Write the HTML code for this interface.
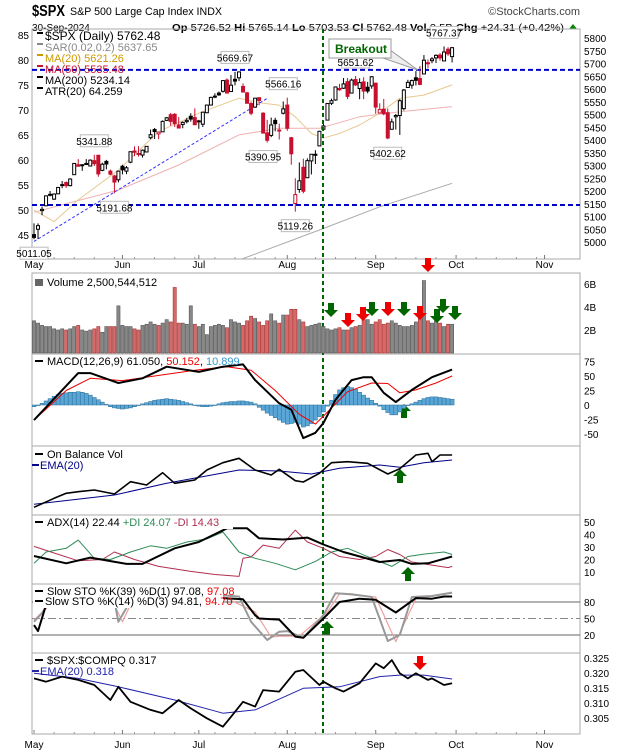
<!DOCTYPE html>
<html><head><meta charset="utf-8"><style>
html,body{margin:0;padding:0;background:#fff}
svg{display:block;font-family:"Liberation Sans",sans-serif}
</style></head><body>
<svg id="c" width="620" height="750" viewBox="0 0 620 750"></svg>
<script>
// ===== data =====
const opens=[5029,5050,5123,5142,5187,5168,5189,5225,5233,5221,5264,5303,5303,5305,5298,5319,5340,5281,5316,5278,5259,5244,
5297,5278,5313,5357,5343,5341,5353,5409,5441,5424,5432,5477,5499,5501,5459,5461,5472,5493,5488,
5471,5462,5507,5537,5572,5584,5591,5635,5590,5638,5644,5610,5585,5543,5529,5566,5505,5428,5418,5477,5439,5505,
5537,5409,5151,5206,5293,5252,5318,5344,5377,5442,5478,5544,5557,5602,5603,5629,5584,5637,5602,5628,5607,5612,
5623,5506,5521,5507,5442,5491,5496,5523,5606,5615,5644,5641,5659,5702,5711,5722,5733,5710,5756,5727];
const highs=[5073,5073,5139,5181,5200,5191,5215,5239,5238,5250,5309,5325,5305,5325,5324,5342,5342,5311,5322,5284,5263,5279,
5303,5298,5355,5375,5376,5363,5376,5441,5447,5432,5477,5490,5506,5505,5490,5473,5487,5505,5524,
5479,5510,5539,5570,5583,5590,5635,5642,5655,5667,5669,5622,5589,5550,5565,5566,5509,5479,5488,5487,5464,5551,
5566,5412,5250,5312,5327,5328,5345,5360,5436,5464,5545,5562,5608,5620,5643,5643,5641,5651,5642,5646,5628,5651,
5623,5544,5561,5523,5484,5502,5560,5600,5636,5637,5670,5690,5733,5716,5725,5736,5741,5767,5764,5765];
const lows=[5011,5012,5105,5142,5179,5165,5187,5211,5212,5218,5263,5297,5279,5302,5298,5298,5256,5278,5285,5262,5191,5234,
5265,5266,5309,5337,5335,5331,5352,5403,5404,5403,5432,5474,5456,5451,5447,5446,5465,5472,5459,
5444,5451,5505,5535,5564,5573,5586,5584,5590,5614,5631,5588,5544,5497,5526,5536,5426,5390,5411,5434,5402,5500,
5436,5303,5119,5193,5191,5251,5265,5306,5376,5435,5478,5537,5554,5593,5600,5560,5584,5612,5560,5560,5583,5601,
5503,5504,5497,5403,5443,5441,5420,5516,5606,5601,5614,5615,5686,5682,5701,5702,5711,5710,5730,5704];
const closes=[5018,5064,5128,5181,5187,5188,5214,5223,5221,5247,5308,5297,5303,5308,5321,5307,5267,5305,5306,5266,5235,5278,
5283,5291,5354,5352,5347,5360,5375,5421,5433,5431,5473,5487,5473,5464,5447,5469,5477,5482,5460,
5475,5509,5537,5567,5572,5577,5633,5584,5615,5631,5667,5588,5544,5505,5564,5555,5427,5399,5459,5464,5436,5522,
5446,5346,5186,5240,5199,5319,5344,5344,5434,5455,5543,5554,5608,5597,5620,5571,5635,5616,5625,5592,5592,5648,
5529,5520,5503,5408,5471,5496,5554,5596,5626,5633,5634,5618,5713,5703,5718,5732,5722,5745,5738,5762];
const volumes=[2.8,2.6,2.4,2.3,2.3,2.1,2.0,2.1,2.0,2.1,2.3,2.4,2.0,1.9,2.0,2.1,2.3,1.8,2.3,2.3,2.3,4.1,
2.4,2.3,2.3,2.1,2.0,2.4,2.5,2.7,2.5,2.4,2.6,2.9,2.7,5.7,2.6,2.6,2.5,4.1,2.5,
2.3,2.5,1.6,2.3,2.4,2.5,2.4,2.2,2.9,2.7,2.6,2.4,2.8,3.2,3.0,2.7,2.4,2.8,3.4,2.8,2.6,3.3,
3.3,3.8,3.8,2.9,2.7,2.3,2.4,2.5,2.6,2.3,2.1,2.0,2.1,2.2,2.0,2.0,2.2,2.3,2.4,2.9,2.9,2.5,
2.7,2.9,2.5,2.6,2.8,2.6,2.4,2.3,2.3,2.4,2.7,3.1,6.3,2.8,2.6,2.8,2.6,2.3,2.5,2.5];
const macdHist=[-3,-1,3,7,11,15,18,20,21,22,22,23,
22,20,17,13,9,5,1,-3,-5,-6,
-7,-6,-5,-3,0,2,4,6,8,9,10,
11,10,9,8,6,4,2,0,-2,-3,
-3,-2,0,2,4,5,6,
6,7,7,6,5,2,-4,-9,
-14,-18,-22,-26,-30,-33,-32,-30,-33,
-38,-36,-32,-26,-20,-12,-2,
8,18,26,30,32,30,27,
22,17,12,8,3,-2,
-8,-13,-17,-17,-12,-6,
-1,2,5,8,11,13,14,14,13,12,11,10];
const macdDays=[0,11,14,21,27,33,41,47,52,55,61,64,67,70,72,75,79,82,84,87,90,94,99,104];
const macdLine=[-26,55,55,38,46,66,57,66,70,43,3,-8,-57,-48,-31,9,43,48,48,21,5,26,48,61];
const sigDays=[0,8,14,22,30,40,48,54,60,66,70,73,78,84,88,91,95,100,104];
const sigLine=[-26,25,46,42,50,60,66,60,25,-16,-33,-12,23,38,37,21,26,38,50];
const obvDays=[0,5,8,11,15,20,24,28,32,35,40,43,47,51,55,59,61,65,67,71,74,78,83,88,91,95,98,99,101,104];
const obvLine=[0.3,3,4.5,5,5.5,4.3,8,7,10.7,7.5,8.5,11.5,13.7,15,11.5,10,11.7,8.3,7.9,10.5,13.7,14,13.5,10.3,11.9,16,16.5,14,16,16];
const obvEmaDays=[0,20,33,51,61,69,76,86,91,97,104];
const obvEma=[1.2,4,7.5,11.5,11.2,10.3,12,13,12.3,13.7,14.5];
const adxDays=[0,8,14,23,27,35,41,48,53,56,62,68,72,77,86,91,94,98,104];
const adxLine=[22.8,17,21.5,16.5,16.5,29,34,45,45,37,36,37.5,32,26,18,19.6,16.5,17,22.4];
const pdiDays=[0,3,8,11,15,19,24,29,33,38,43,47,51,55,60,65,70,74,78,84,89,93,97,102,104];
const pdiLine=[17,26,29,35.5,21,20,26,31,29,34,36.5,42,26,21,17,11.8,18.5,26,29,21,14.5,22.4,24.3,26,24];
const mdiDays=[0,5,11,17,20,25,31,39,45,51,52,54,57,61,65,68,72,76,81,85,88,91,94,98,103,104];
const mdiLine=[30.5,25.2,19,20,26,20,14.5,10.5,8,6.5,21,22,31.5,29,43.5,34,29,22.4,20,22.4,28,24,18,16,13.5,14.5];
const stoKDays=[0,1,3,4,47,52,55,56,61,65,67,72,76,81,85,90,95,99,102,104];
const stoK=[38,27,75,80,87,85,56,50,48,17,15,50,80,86,84,61,87,86,90,90];
const sto39Days=[0,2,4,20,21,24,47,51,54,58,61,63,67,72,75,79,84,88,91,94,99,104];
const sto39=[44,60,82,82,44,82,92,90,44,11,26,27,15,56,96,94,89,9,20,89,91,97];
const stoDDays=[0,4,20,22,24,47,55,59,61,66,73,76,85,90,95,104];
const stoD=[47,75,75,44,75,90,62,16,18,18,62,95,89,8,86,96];
const ratioDays=[0,3,7,11,15,19,21,24,29,32,36,39,43,47,49,52,55,57,61,65,67,71,72,75,77,81,85,87,89,91,93,95,98,99,102,104];
const ratioLine=[.3182,.3171,.3188,.3177,.3160,.3110,.3154,.3104,.3077,.3066,.3110,.3082,.3049,.3021,.3054,.3104,.3088,.3143,.3138,.3204,.3210,.3160,.3171,.3149,.3138,.3166,.3232,.3216,.3243,.3199,.3182,.3199,.3177,.3182,.3160,.3166];
const ratioEmaDays=[0,11,21,35,47,55,67,76,86,91,97,104];
const ratioEma=[.3199,.3182,.3154,.3110,.3066,.3077,.3149,.3154,.3188,.3193,.3193,.3180];
const ma20Days=[0,5,11,21,31,41,51,57,61,65,69,72,76,81,86,91,97,104];
const ma20=[5125,5080,5165,5282,5433,5505,5564,5544,5537,5491,5426,5407,5426,5459,5505,5564,5576,5616];
const ma50Days=[0,21,36,51,61,71,81,91,104];
const ma50=[5117,5204,5302,5420,5446,5446,5491,5511,5531];
const ma200Days=[51,71,86,104];
const ma200=[4929,5047,5138,5230];
const priceTicks=[5800,5750,5700,5650,5600,5550,5500,5450,5400,5350,5300,5250,5200,5150,5100,5050,5000];
const leftTicks=[85,80,75,70,65,60,55,50,45];
const months=["May","Jun","Jul","Aug","Sep","Oct","Nov"];
const monthDays=[0,22,41,63,85,105,127];

// ===== scales =====
const NS="http://www.w3.org/2000/svg";
const svg=document.getElementById('c');
const L=32,R=580;
const P={main:[29,259],vol:[273,354],macd:[354,446],obv:[446,515],adx:[515,584],sto:[584,653],ratio:[653,734]};
const xi=i=>34+i*4.02;
const yPrice=p=>38+(5800-p)*0.255;
const yLeft=v=>35+(85-v)*5;
const yVol=v=>353-v*11.5;
const yMacd=v=>405-v*0.58;
const yObv=v=>270+(715-v*10)/3;
const yAdx=v=>584.5-v*1.25;
const ySto=v=>591+(100-v)*0.55;
const yRatio=v=>658+(0.325-v)*3000;

function el(tag,attrs,parent){const e=document.createElementNS(NS,tag);for(const k in attrs)e.setAttribute(k,attrs[k]);(parent||svg).appendChild(e);return e;}
function txt(s,x,y,attrs,parent){const t=el('text',Object.assign({x:x,y:y,'font-size':11,fill:'#000'},attrs||{}),parent);t.textContent=s;return t;}

const defs=el('defs',{});
for(const k in P){const cp=el('clipPath',{id:'clip-'+k},defs);el('rect',{x:L,y:P[k][0],width:R-L,height:P[k][1]-P[k][0]},cp);}

function series(days,vals,yf,stroke,w,panel,name){
  const g=el('g',{'clip-path':'url(#clip-'+panel+')'});
  const pts=days.map((d,k)=>xi(d).toFixed(1)+','+yf(vals[k]).toFixed(1)).join(' ');
  const pl=el('polyline',{points:pts,fill:'none',stroke:stroke,'stroke-width':w,'stroke-linejoin':'round'},g);
  
  
  return pl;
}

// ===== header =====
txt('$SPX',32,16,{'font-size':16,'font-weight':'bold',textLength:33,lengthAdjust:'spacingAndGlyphs'});
txt('S&P 500 Large Cap Index  INDX',70,15,{'font-size':11,textLength:152,lengthAdjust:'spacingAndGlyphs'});
txt('©StockCharts.com',580,15,{'font-size':11,'text-anchor':'end',fill:'#444'});
txt('30-Sep-2024',32,31,{'font-size':10});
const qt=txt('',172,31,{'font-size':10,textLength:392,lengthAdjust:'spacingAndGlyphs'});

qt.innerHTML='<tspan font-weight="bold">Op</tspan> 5726.52 <tspan font-weight="bold">Hi</tspan> 5765.14 <tspan font-weight="bold">Lo</tspan> 5703.53 <tspan font-weight="bold">Cl</tspan> 5762.48 <tspan font-weight="bold">Vol</tspan> 2.5B <tspan font-weight="bold">Chg</tspan> +24.31 (+0.42%)';
el('polygon',{points:'569,29 577,29 573,24',fill:'#080'});

// ===== panels =====
for(const k in P){
  const r=el('rect',{x:L,y:P[k][0],width:R-L,height:P[k][1]-P[k][0],fill:'none',stroke:'#aaa','stroke-width':1});
  
  
}
[[259,267],[734,747]].forEach(([by,ly])=>{
  months.forEach((m,k)=>{
    const x=xi(monthDays[k]);
    const t=txt(m,x,ly+1,{'font-size':10,'text-anchor':'middle'});
    
    el('line',{x1:x,x2:x,y1:by,y2:by-4,stroke:'#777'});
  });
  for(let d=0;d<127;d+=5){el('line',{x1:xi(d),x2:xi(d),y1:by,y2:by-2,stroke:'#999'});}
});

// ===== main price panel =====
priceTicks.forEach(p=>{const t=txt(p,584,yPrice(p)+4,{'font-size':10});});
leftTicks.forEach(v=>{const t=txt(v,29,yLeft(v)+4,{'font-size':10,'text-anchor':'end'});});
series(ma200Days,ma200,yPrice,'#aaa',1,'main','ma200-line');
series(ma50Days,ma50,yPrice,'#f0b0b0',1,'main','ma50-line');
series(ma20Days,ma20,yPrice,'#e8c890',1,'main','ma20-line');
const gtl=el('g',{'clip-path':'url(#clip-main)'});
const tl=el('line',{x1:xi(-8.5),y1:yPrice(4920),x2:xi(58.3),y2:yPrice(5566),stroke:'#33f','stroke-width':1,'stroke-dasharray':'3,2'},gtl);

[5675,5145].forEach(p=>{const l=el('line',{x1:L,x2:R,y1:yPrice(p),y2:yPrice(p),stroke:'#00c','stroke-width':2,'stroke-dasharray':'5,3'});});
const gc=el('g',{'clip-path':'url(#clip-main)'});
closes.forEach((c,i)=>{
  const o=opens[i],x=xi(i);
  const down=i>0&&c<closes[i-1];
  const col=down?'#c8102e':'#000';
  el('line',{x1:x,x2:x,y1:yPrice(highs[i]),y2:yPrice(lows[i]),stroke:col,'stroke-width':1},gc);
  const top=yPrice(Math.max(o,c)),bot=yPrice(Math.min(o,c));
  const b=el('rect',{x:x-1.5,y:top,width:3,height:Math.max(1,bot-top),fill:c>=o?'#fff':col,stroke:col,'stroke-width':1},gc);
  
  
});
const boxes=[["5011.05",0,5011,1],["5191.68",20,5191,1],["5341.88",15,5342,-1],["5669.67",50,5669,-1],["5566.16",62,5566,-1],["5390.95",57,5390,1],["5119.26",65,5119,1],["5651.62",80,5651,-1],["5402.62",88,5403,1],["5767.37",102,5767,-1]];
boxes.forEach(([s,d,p,dir])=>{
  const x=xi(d),y=yPrice(p)+(dir>0?8:-8);
  const by=dir>0?y:y-12;
  el('rect',{x:x-14,y:by,width:28,height:12,fill:'#fff',stroke:'#bbb'});
  const t=txt(s,x,by+10,{'font-size':10,'text-anchor':'middle'});
  
});
el('polygon',{points:'380,57 390,50 418,70',fill:'#eee',stroke:'#999'});
const bb=el('rect',{x:329,y:39,width:62,height:19,fill:'#fff',stroke:'#999'});

txt('Breakout',335,53,{'font-size':12,'font-weight':'bold',fill:'#060'});
const leg=[["$SPX (Daily) 5762.48",'#000',36],["SAR(0.02,0.2) 5637.65",'#888',47],["MA(20) 5621.26",'#c90',58],["MA(50) 5535.48",'#c8102e',69],["MA(200) 5234.14",'#000',80],["ATR(20) 64.259",'#000',91]];
leg.forEach(([s,c,y],k)=>{el('rect',{x:37,y:y-4,width:6,height:2,fill:c});const t=txt(s,45,y+4,{'font-size':k==0?12:11,fill:c});});

const vl=el('line',{x1:323,x2:323,y1:29,y2:734,stroke:'#060','stroke-width':2,'stroke-dasharray':'4,3'});


// ===== volume =====
const gv=el('g',{'clip-path':'url(#clip-vol)'});
volumes.forEach((v,i)=>{
  const down=i>0&&closes[i]<closes[i-1];
  const r=el('rect',{x:xi(i)-1.6,y:yVol(v),width:3.2,height:353-yVol(v),fill:down?'#d46a6a':'#888',stroke:down?'#a33':'#555','stroke-width':0.6},gv);
  
  
});
[[6,'6B'],[4,'4B'],[2,'2B']].forEach(([v,s])=>{txt(s,584,yVol(v)+4,{'font-size':10});});
txt('Volume 2,500,544,512',47,286,{'font-size':11});
el('rect',{x:35,y:279,width:8,height:7,fill:'#666'});

function arrow(x,y,dir,col,name){
  const pts=[[-3,0],[3,0],[3,7],[7,7],[0,14],[-7,7],[-3,7]].map(([a,b])=>(x+a)+','+(dir>0?y+b:y+14-b)).join(' ');
  const p=el('polygon',{points:pts,fill:col});
  
  
}
const G='#060',RD='#e00';
arrow(428,258,1,RD,'sell-arrow');
[[331,303,G],[348,313,RD],[363,307,RD],[372,302,G],[388,302,RD],[404,302,G],[420,306,RD],[437,309,G],[443,299,G],[455,306,G]].forEach(([x,y,c])=>arrow(x,y,1,c,c===G?'buy-arrow':'sell-arrow'));
arrow(404,404,-1,G,'macd-buy-arrow');
arrow(400,469,-1,G,'obv-buy-arrow');
arrow(408,567,-1,G,'adx-buy-arrow');
arrow(327,621,-1,G,'sto-buy-arrow');
arrow(420,656,1,RD,'ratio-sell-arrow');

// ===== MACD =====
const gm=el('g',{'clip-path':'url(#clip-macd)'});
macdHist.forEach((v,i)=>{
  const y0=yMacd(0),y1=yMacd(v);
  const r=el('rect',{x:xi(i)-2,y:Math.min(y0,y1),width:4,height:Math.abs(y1-y0)||0.5,fill:'#5aa6d6',stroke:'#2a6f9a','stroke-width':0.5},gm);
  
  
});
series(sigDays,sigLine,yMacd,'#e00',1,'macd','macd-signal-line');
series(macdDays,macdLine,yMacd,'#000',2,'macd','macd-line');
[75,50,25,0,-25,-50].forEach(v=>{txt(v,584,yMacd(v)+4,{'font-size':10});});
const ml=txt('',47,365,{'font-size':11});

ml.innerHTML='MACD(12,26,9) 61.050, <tspan fill="#e00">50.152</tspan>, <tspan fill="#39c">10.899</tspan>';
el('rect',{x:35,y:360,width:8,height:2,fill:'#000'});

// ===== OBV =====
series(obvEmaDays,obvEma,yObv,'#008',1,'obv','obv-ema-line');
series(obvDays,obvLine,yObv,'#000',1.6,'obv','obv-line');
txt('On Balance Vol',47,458,{'font-size':11});
txt('EMA(20)',40,469,{'font-size':11,fill:'#008'});
el('rect',{x:35,y:453,width:8,height:2,fill:'#000'});
el('rect',{x:32,y:464,width:7,height:2,fill:'#008'});

// ===== ADX =====
series(mdiDays,mdiLine,yAdx,'#b03050',1,'adx','minus-di-line');
series(pdiDays,pdiLine,yAdx,'#2e8b57',1,'adx','plus-di-line');
series(adxDays,adxLine,yAdx,'#000',2,'adx','adx-line');
el('rect',{x:33,y:516,width:200,height:13,fill:'#fff'});
[50,40,30,20,10].forEach(v=>{txt(v,584,yAdx(v)+4,{'font-size':10});});
const al=txt('',47,526,{'font-size':11});

al.innerHTML='ADX(14) 22.44 <tspan fill="#2e8b57">+DI 24.07</tspan> <tspan fill="#b03050">-DI 14.43</tspan>';
el('rect',{x:35,y:521,width:8,height:2,fill:'#000'});

// ===== STO =====
[[80,'#666','none'],[20,'#666','none'],[50,'#888','8,3,2,3']].forEach(([v,c,d])=>{const l=el('line',{x1:L,x2:R,y1:ySto(v),y2:ySto(v),stroke:c,'stroke-width':1,'stroke-dasharray':d});});
series(stoDDays,stoD,ySto,'#f0a0a0',1.2,'sto','sto-d-line');
series(sto39Days,sto39,ySto,'#999',2,'sto','sto39-k-line');
series(stoKDays,stoK,ySto,'#000',2,'sto','sto14-k-line');
el('rect',{x:33,y:585,width:190,height:23,fill:'#fff'});
el('rect',{x:33,y:585,width:190,height:23,fill:'#fff'});
[80,50,20].forEach(v=>{txt(v,584,ySto(v)+4,{'font-size':10});});
const s1=txt('',47,595,{'font-size':11});
s1.innerHTML='Slow STO %K(39) %D(1) 97.08, <tspan fill="#e00">97.08</tspan>';
const s2=txt('',45,605,{'font-size':11});
s2.innerHTML='Slow STO %K(14) %D(3) 94.81, <tspan fill="#e00">94.70</tspan>';
el('rect',{x:35,y:590,width:8,height:2,fill:'#000'});
el('rect',{x:35,y:600,width:8,height:2,fill:'#000'});

// ===== Ratio =====
series(ratioEmaDays,ratioEma,yRatio,'#22a',1,'ratio','ratio-ema-line');
series(ratioDays,ratioLine,yRatio,'#000',1.8,'ratio','ratio-line');
[.325,.320,.315,.310,.305].forEach(v=>{txt(v.toFixed(3),584,yRatio(v)+4,{'font-size':10});});
txt('$SPX:$COMPQ 0.317',47,664,{'font-size':11});
txt('EMA(20) 0.318',40,675,{'font-size':11,fill:'#22a'});
el('rect',{x:35,y:659,width:8,height:2,fill:'#000'});
el('rect',{x:32,y:670,width:7,height:2,fill:'#22a'});
</script>
</body></html>
